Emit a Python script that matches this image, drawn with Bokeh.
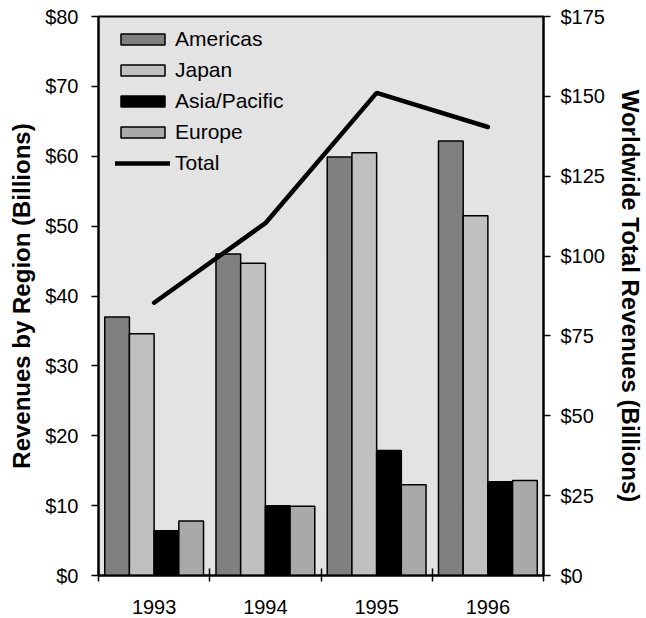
import numpy as np
from bokeh.plotting import figure
from bokeh.models import (Range1d, LinearAxis, FixedTicker, PrintfTickFormatter,
                          Legend, LegendItem, ColumnDataSource)
from bokeh.embed import file_html
from bokeh.resources import INLINE

# Semiconductor revenues by region, in billions of dollars
years = ["1993", "1994", "1995", "1996"]
regions = ["Americas", "Japan", "Asia/Pacific", "Europe"]
americas = [37.0, 46.0, 59.9, 62.2]
japan = [34.6, 44.7, 60.5, 51.5]
asia_pacific = [6.4, 10.0, 17.9, 13.4]
europe = [7.8, 9.9, 13.0, 13.6]
total = [85.4, 110.3, 151.1, 140.4]

left_ticks = [0, 10, 20, 30, 40, 50, 60, 70, 80]
right_ticks = [0, 25, 50, 75, 100, 125, 150, 175]

region_values = [americas, japan, asia_pacific, europe]
region_colors = ["#808080", "#c0c0c0", "#000000", "#a9a9a9"]

FONT = "Liberation Sans"
BAR_W = 0.222

p = figure(width=646, height=618,
           x_range=Range1d(0, len(years)), y_range=Range1d(0, 80),
           output_backend="svg", toolbar_location=None,
           min_border_left=98, min_border_right=98,
           min_border_top=16, min_border_bottom=43,
           background_fill_color="#e3e3e3", border_fill_color="white",
           outline_line_color="black", outline_line_width=2)
p.xgrid.visible = False
p.ygrid.visible = False

p.extra_y_ranges = {"total": Range1d(0, 175)}

centers = np.arange(len(years)) + 0.5

# x axis: year labels at group centres, tick marks between groups
xa = p.xaxis[0]
xa.ticker = FixedTicker(ticks=list(centers), minor_ticks=list(range(len(years) + 1)))
xa.major_label_overrides = {float(c): y for c, y in zip(centers, years)}
xa.major_tick_line_color = None
xa.major_tick_out = 0
xa.major_tick_in = 0
xa.minor_tick_line_color = "black"
xa.minor_tick_line_width = 1.5
xa.minor_tick_in = 7
xa.minor_tick_out = 6
xa.axis_line_width = 2
xa.major_label_standoff = 18
xa.major_label_text_font = FONT
xa.major_label_text_font_size = "20px"
xa.major_label_text_color = "black"

def style_y(ax, label, label_standoff, title_standoff):
    ax.formatter = PrintfTickFormatter(format="$%d")
    ax.axis_line_width = 2
    ax.major_tick_line_width = 1.5
    ax.major_tick_in = 0
    ax.major_tick_out = 7
    ax.minor_tick_line_color = None
    ax.major_label_standoff = label_standoff
    ax.major_label_text_font = FONT
    ax.major_label_text_font_size = "20px"
    ax.major_label_text_color = "black"
    ax.axis_label = label
    ax.axis_label_text_font = FONT
    ax.axis_label_text_font_size = "24px"
    ax.axis_label_text_font_style = "bold"
    ax.axis_label_text_color = "black"
    ax.axis_label_standoff = title_standoff

ya = p.yaxis[0]
ya.ticker = FixedTicker(ticks=left_ticks)
style_y(ya, "Revenues by Region (Billions)", 13, 7)

# right-hand axis for the worldwide total; its width must stay within the
# 98 px right border so the frame keeps its size
yr = LinearAxis(y_range_name="total", ticker=FixedTicker(ticks=right_ticks))
style_y(yr, "Worldwide Total Revenues (Billions)", 10, 9)
p.add_layout(yr, "right")

items = []
for i, (name, vals, col) in enumerate(zip(regions, region_values, region_colors)):
    src = ColumnDataSource(dict(x=centers + (i - 1.5) * BAR_W, top=vals))
    r = p.vbar(x="x", top="top", width=BAR_W, bottom=0, source=src,
               fill_color=col, line_color="black", line_width=1.5)
    items.append(LegendItem(label=name, renderers=[r]))

tr = p.line(x=centers, y=total, y_range_name="total",
            line_color="black", line_width=4.5, line_cap="round")
items.append(LegendItem(label="Total", renderers=[tr]))

legend = Legend(items=items, location=(17, 400), margin=0, padding=0,
                glyph_width=55, glyph_height=14, label_standoff=5, spacing=7,
                label_text_font=FONT, label_text_font_size="21px",
                label_text_color="black",
                background_fill_alpha=0, border_line_color=None)
p.add_layout(legend)

open("out.html", "w").write(file_html(p, INLINE))
